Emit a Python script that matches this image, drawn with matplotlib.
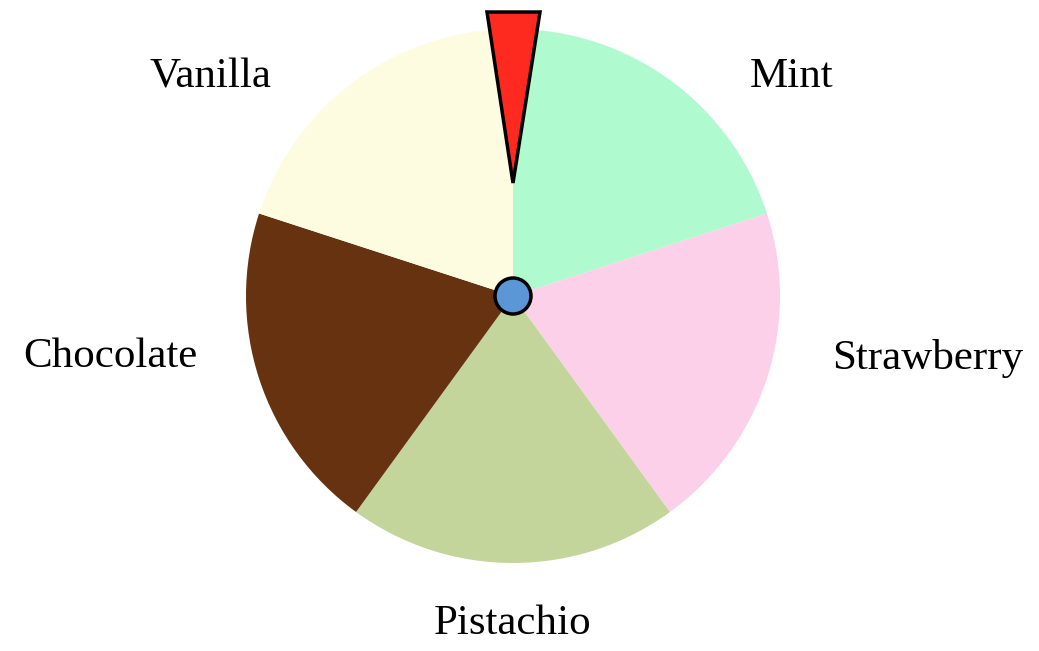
import matplotlib
matplotlib.use("Agg")
import matplotlib.pyplot as plt
from matplotlib.patches import Polygon, Circle

flavors = ["Mint", "Strawberry", "Pistachio", "Chocolate", "Vanilla"]
shares = [1, 1, 1, 1, 1]
colors = ["#B0FAD0", "#FCD0E8", "#C4D59C", "#663210", "#FDFCE0"]

W, H = 1039, 651
fig = plt.figure(figsize=(W / 100, H / 100), dpi=100)
ax = fig.add_axes([0, 0, 1, 1])
ax.set_xlim(0, W)
ax.set_ylim(0, H)
ax.set_aspect("equal")
ax.axis("off")

cx, cy, r = 513, H - 296, 267
ax.pie(shares, colors=colors, startangle=90, counterclock=False,
       center=(cx, cy), radius=r, wedgeprops=dict(linewidth=0))
ax.set_xlim(0, W)
ax.set_ylim(0, H)

label_pos = {
    "Mint": (792, H - 77),
    "Strawberry": (928, H - 358),
    "Pistachio": (513, H - 624),
    "Chocolate": (110, H - 357),
    "Vanilla": (210, H - 77),
}
for name in flavors:
    x, y = label_pos[name]
    ax.text(x, y, name, ha="center", va="center", fontsize=31,
            family=["Liberation Serif", "DejaVu Serif"], color="black")

# pointer
ptr = Polygon([(487, H - 12), (540, H - 12), (513, H - 183)], closed=True,
              facecolor="#FF2A1F", edgecolor="black", linewidth=2.5, zorder=5)
ax.add_patch(ptr)

# hub
ax.add_patch(Circle((cx, cy), 18, facecolor="#5B96D6", edgecolor="black",
                    linewidth=2.5, zorder=6))

fig.savefig("out.png", dpi=100)
